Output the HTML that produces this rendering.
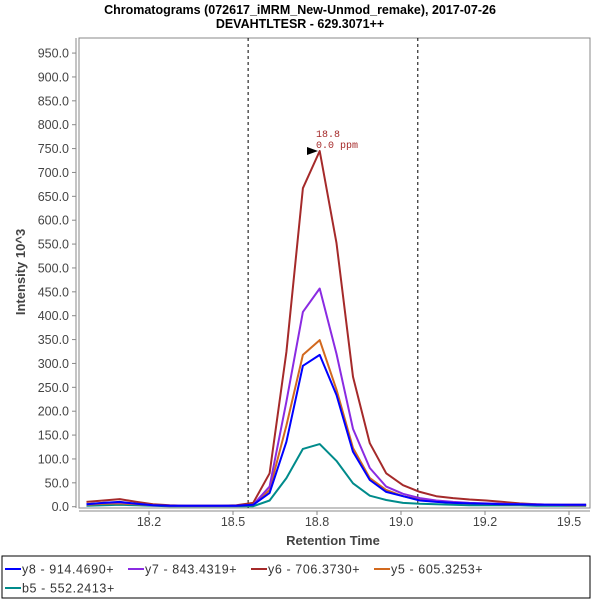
<!DOCTYPE html>
<html><head><meta charset="utf-8"><style>
body{margin:0;background:#fff;}
svg{display:block;font-family:"Liberation Sans","DejaVu Sans",sans-serif;}
</style></head><body>
<svg id="chart" width="600" height="600" viewBox="0 0 600 600">
<text x="300" y="14" text-anchor="middle" font-size="12.5" font-weight="bold">Chromatograms (072617_iMRM_New-Unmod_remake), 2017-07-26</text>
<text x="300" y="28" text-anchor="middle" font-size="12.5" font-weight="bold">DEVAHTLTESR - 629.3071++</text>
<rect x="79" y="38" width="511" height="470" fill="#fff" stroke="#888"/>
<g id="yaxis"></g>
<g id="xaxis"></g>
<g id="series"></g>
<text transform="translate(25,272) rotate(-90)" text-anchor="middle" font-size="13" font-weight="bold" fill="#444">Intensity 10^3</text>
<text x="333" y="545" text-anchor="middle" font-size="13" font-weight="bold" fill="#444">Retention Time</text>
<g>
<text x="316" y="137" font-size="10" fill="#a52a2a" font-family="Liberation Mono, monospace">18.8</text>
<text x="316" y="148" font-size="10" fill="#a52a2a" font-family="Liberation Mono, monospace">0.0 ppm</text>
<polygon points="307,147 318,151 307,155" fill="#000"/>
</g>
<rect x="2" y="556" width="588" height="42" fill="#fff" stroke="#000"/>
<g id="legend" font-size="12" fill="#333"></g>
</svg>
<script>
const times=[18.064,18.114,18.163,18.213,18.262,18.312,18.362,18.411,18.461,18.510,18.560,18.609,18.659,18.708,18.758,18.808,18.857,18.907,18.956,19.006,19.056,19.105,19.155,19.204,19.254,19.303,19.353,19.403,19.452,19.502,19.551];
const y8=[5,8,10,6,3,2,2,2,2,2,4,29,136,295,318,234,115,56,31,22,13,10,8,7,6,5,5,4,4,4,4];
const y7=[5,8,9,6,3,2,2,2,2,2,4,42,220,408,457,320,163,81,42,27,18,13,10,8,7,6,5,5,4,4,4];
const y6=[10,13,16,10,5,3,2,2,2,3,8,70,324,667,745,552,272,133,70,45,31,22,18,15,13,10,7,5,4,3,3];
const y5=[4,6,7,5,3,2,2,2,2,2,4,35,170,318,349,245,123,60,35,22,15,11,8,7,6,5,5,4,4,4,4];
const b5=[2,3,4,3,2,1,1,1,1,1,1,13,60,121,131,96,49,23,14,8,6,5,4,3,3,3,3,2,2,2,2];
const yTicks=[0,50,100,150,200,250,300,350,400,450,500,550,600,650,700,750,800,850,900,950];
const xTicks=[18.25,18.5,18.75,19.0,19.25,19.5];
const xTickLabels=["18.2","18.5","18.8","19.0","19.2","19.5"];
const markers=[18.545,19.05];
const seriesNames=["y8 - 914.4690+","y7 - 843.4319+","y6 - 706.3730+","y5 - 605.3253+","b5 - 552.2413+"];
const seriesColors=["#0000ff","#8a2be2","#a52a2a","#d2691e","#008b8b"];
const seriesData=[y8,y7,y6,y5,b5];
const NS="http://www.w3.org/2000/svg";
function X(t){return 401+(t-19.0)*336;}
function Y(v){return 506.7-v*0.4775;}
function mk(tag,attrs,parent){const e=document.createElementNS(NS,tag);for(const k in attrs)e.setAttribute(k,attrs[k]);parent.appendChild(e);return e;}
const ya=document.getElementById('yaxis'),xa=document.getElementById('xaxis'),sg=document.getElementById('series'),lg=document.getElementById('legend');
const yl=mk('line',{x1:76,y1:38,x2:76,y2:508,stroke:'#888'},ya);


yTicks.forEach(v=>{
  const t=mk('line',{x1:72,x2:76,y1:Y(v),y2:Y(v),stroke:'#888'},ya);
  
  
  const l=mk('text',{x:69,y:Y(v)+4.5,'text-anchor':'end','font-size':'12.5',fill:'#444'},ya);
  l.textContent=v.toFixed(1);
  
  
});
const xl=mk('line',{x1:79,y1:511,x2:590,y2:511,stroke:'#888'},xa);


xTicks.forEach((v,i)=>{
  const t=mk('line',{x1:X(v),x2:X(v),y1:511,y2:515,stroke:'#888'},xa);
  
  
  const l=mk('text',{x:X(v),y:526,'text-anchor':'middle','font-size':'12.5',fill:'#444'},xa);
  l.textContent=xTickLabels[i];
  
  
});
markers.forEach(m=>{
  const d=mk('line',{x1:X(m),x2:X(m),y1:38,y2:508,stroke:'#000','stroke-dasharray':'3,3','stroke-width':1},sg);
  
  
});
for(let s=seriesData.length-1;s>=0;s--){
  const pts=seriesData[s].map((v,i)=>X(times[i]).toFixed(1)+','+Y(v).toFixed(1)).join(' ');
  const p=mk('polyline',{points:pts,fill:'none',stroke:seriesColors[s],'stroke-width':2,'stroke-linejoin':'round'},sg);
  
  
}
const lx=[5,128,251,374,5];
seriesNames.forEach((n,i)=>{
  const x=lx[i],y=i<4?569:588;
  const g=mk('g',{},lg);
  
  
  mk('line',{x1:x,x2:x+16,y1:y,y2:y,stroke:seriesColors[i],'stroke-width':2},g);
  const t=mk('text',{x:x+17,y:y+4.5,'font-size':'12.5','letter-spacing':'0.6',fill:'#333'},g);
  t.textContent=n;
});
</script>
</body></html>
